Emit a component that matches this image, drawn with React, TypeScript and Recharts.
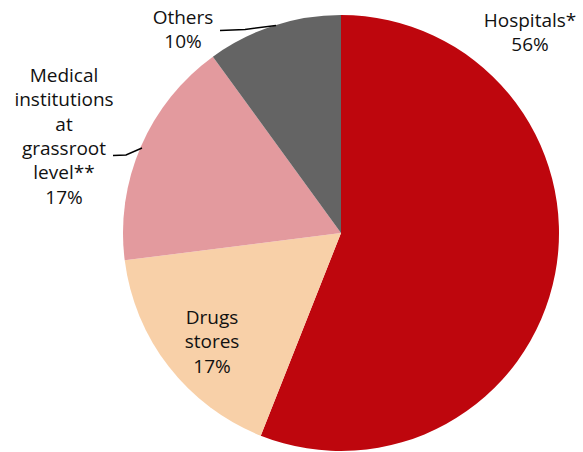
import React from "react";
import { PieChart, Pie, Cell } from "recharts";

const categories = ["Hospitals*", "Drugs stores", "Medical institutions at grassroot level**", "Others"];
const shares = [56, 17, 17, 10];
const labelLines = [
  ["Hospitals*", "56%"],
  ["Drugs", "stores", "17%"],
  ["Medical", "institutions", "at", "grassroot", "level**", "17%"],
  ["Others", "10%"],
];
const colors = ["#BE060D", "#F8D0A8", "#E39A9E", "#646464"];

const data = categories.map((name, i) => ({ name, value: shares[i] }));

// label layout (offsets relative to pie center)
const CX = 341;
const CY = 233;
const labelPos = [
  { x: 530 - CX, y: 27 - CY },
  { x: 212 - CX, y: 324 - CY },
  { x: 64 - CX, y: 82 - CY },
  { x: 183 - CX, y: 24 - CY },
];
const leaders: Record<number, number[][]> = {
  2: [[113, 155.5], [126, 155], [142, 148]],
  3: [[220, 30.5], [245, 29.5], [276, 25.5]],
};
const LINE_H = 24.3;

const renderLabel = (props: any) => {
  const { index, cx, cy } = props;
  const pos = labelPos[index];
  const lines = labelLines[index];
  const pts = leaders[index];
  return (
    <g key={`lbl-${index}`}>
      {pts && (
        <polyline
          points={pts.map((p) => `${p[0] - CX + cx},${p[1] - CY + cy}`).join(" ")}
          fill="none"
          stroke="#000"
          strokeWidth={1.5}
        />
      )}
      <text
        x={cx + pos.x}
        y={cy + pos.y}
        textAnchor="middle"
        fill="#111"
        fontSize={19}
        fontWeight={400}
        fontFamily="'Open Sans', sans-serif"
      >
        {lines.map((l, j) => (
          <tspan key={j} x={cx + pos.x} dy={j === 0 ? 0 : LINE_H}>
            {l}
          </tspan>
        ))}
      </text>
    </g>
  );
};

export default function App() {
  return (
    <div style={{ position: "absolute", left: 0, top: 0, width: 583, height: 452, background: "#fff" }}>
      <PieChart width={583} height={452} margin={{ top: 0, right: 0, bottom: 0, left: 0 }}>
        <Pie
          data={data}
          dataKey="value"
          nameKey="name"
          cx={CX}
          cy={CY}
          outerRadius={218}
          startAngle={90}
          endAngle={-270}
          stroke="none"
          labelLine={false}
          label={renderLabel}
          isAnimationActive={false}
        >
          {data.map((d, i) => (
            <Cell key={d.name} fill={colors[i]} />
          ))}
        </Pie>
      </PieChart>
    </div>
  );
}
